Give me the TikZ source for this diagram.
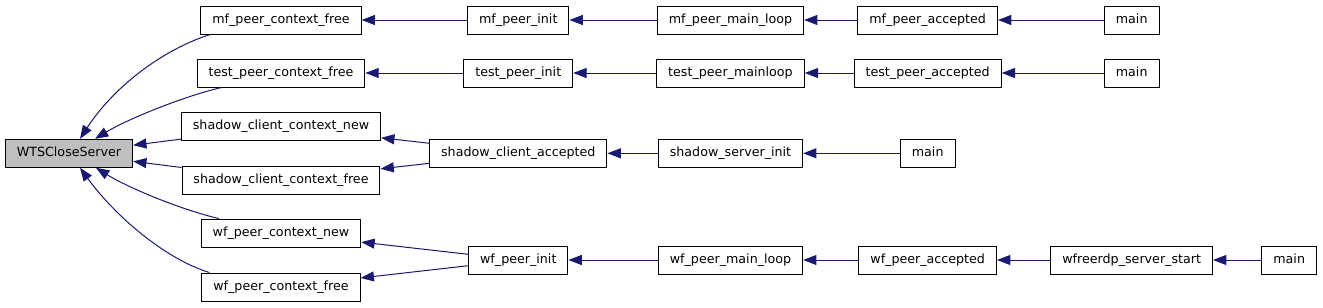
\documentclass[tikz,border=0pt]{standalone}
\usepackage{fontspec}
\setmainfont{DejaVu Sans}
\usepackage{xcolor}
\usepackage{tikz}
\usetikzlibrary{arrows.meta}
\definecolor{callblue}{HTML}{191970}
\definecolor{boxgray}{HTML}{BFBFBF}

\begin{document}
\begin{tikzpicture}[x=0.75pt, y=-0.75pt,
  fn/.style={draw=black, line width=0.75pt, inner xsep=8.6pt, inner ysep=0pt,
    minimum height=21pt, text height=7pt, text depth=2.5pt,
    font=\fontsize{9.5}{11}\selectfont},
  call/.style={-{Triangle[length=10pt, width=7.5pt]}, callblue, line width=0.75pt}]
  \useasboundingbox (0,0) rectangle (1323,307);
  % the function itself
  \node[fn, fill=boxgray] (wts) at (69,153.3) {WTSCloseServer};
  % direct callers
  \node[fn] (mfcf) at (281,20) {mf\_peer\_context\_free};
  \node[fn] (tpcf) at (281,73) {test\_peer\_context\_free};
  \node[fn] (sccn) at (281,126.5) {shadow\_client\_context\_new};
  \node[fn] (sccf) at (281,180) {shadow\_client\_context\_free};
  \node[fn] (wfcn) at (281,233) {wf\_peer\_context\_new};
  \node[fn] (wfcf) at (281,287) {wf\_peer\_context\_free};
  % second level
  \node[fn] (mfpi) at (518.3,20) {mf\_peer\_init};
  \node[fn] (tppi) at (518.3,73) {test\_peer\_init};
  \node[fn] (sca) at (518.3,153.3) {shadow\_client\_accepted};
  \node[fn] (wfpi) at (518.3,260) {wf\_peer\_init};
  % third level
  \node[fn] (mfml) at (730.5,20) {mf\_peer\_main\_loop};
  \node[fn] (tpml) at (730.5,73) {test\_peer\_mainloop};
  \node[fn] (ssi) at (730.5,153.3) {shadow\_server\_init};
  \node[fn] (wfml) at (730.5,260) {wf\_peer\_main\_loop};
  % fourth level
  \node[fn] (mfpa) at (927.7,20) {mf\_peer\_accepted};
  \node[fn] (tppa) at (927.7,73) {test\_peer\_accepted};
  \node[fn] (mainc) at (927.7,153.3) {main};
  \node[fn] (wfpa) at (927.7,260) {wf\_peer\_accepted};
  % fifth and sixth level
  \node[fn] (maina) at (1131.7,20) {main};
  \node[fn] (mainb) at (1131.7,73) {main};
  \node[fn] (wfss) at (1131.7,260) {wfreerdp\_server\_start};
  \node[fn] (maind) at (1289.2,260) {main};

  % calls into WTSCloseServer
  \draw[call] ([xshift=7.5pt]mfcf.south west) .. controls +(-45,14) and +(35,-54) .. ([xshift=8.25pt]wts.north);
  \draw[call] ([xshift=18.75pt]tpcf.south west) .. controls +(-35,8) and +(35,-21) .. ([xshift=19.5pt]wts.north);
  \draw[call] (sccn) -- (wts);
  \draw[call] (sccf) -- (wts);
  \draw[call] ([xshift=13.5pt]wfcn.north west) .. controls +(-35,-8) and +(34,21) .. ([xshift=20.25pt]wts.south);
  \draw[call] ([xshift=6pt]wfcf.north west) .. controls +(-45,-14) and +(35,48) .. ([xshift=8.25pt]wts.south);
  % mf chain
  \draw[call] (mfpi) -- (mfcf);
  \draw[call] (mfml) -- (mfpi);
  \draw[call] (mfpa) -- (mfml);
  \draw[call] (maina) -- (mfpa);
  % test chain
  \draw[call] (tppi) -- (tpcf);
  \draw[call] (tpml) -- (tppi);
  \draw[call] (tppa) -- (tpml);
  \draw[call] (mainb) -- (tppa);
  % shadow chain
  \draw[call] (sca) -- (sccn);
  \draw[call] (sca) -- (sccf);
  \draw[call] (ssi) -- (sca);
  \draw[call] (mainc) -- (ssi);
  % wf chain
  \draw[call] (wfpi) -- (wfcn);
  \draw[call] (wfpi) -- (wfcf);
  \draw[call] (wfml) -- (wfpi);
  \draw[call] (wfpa) -- (wfml);
  \draw[call] (wfss) -- (wfpa);
  \draw[call] (maind) -- (wfss);
\end{tikzpicture}
\end{document}
